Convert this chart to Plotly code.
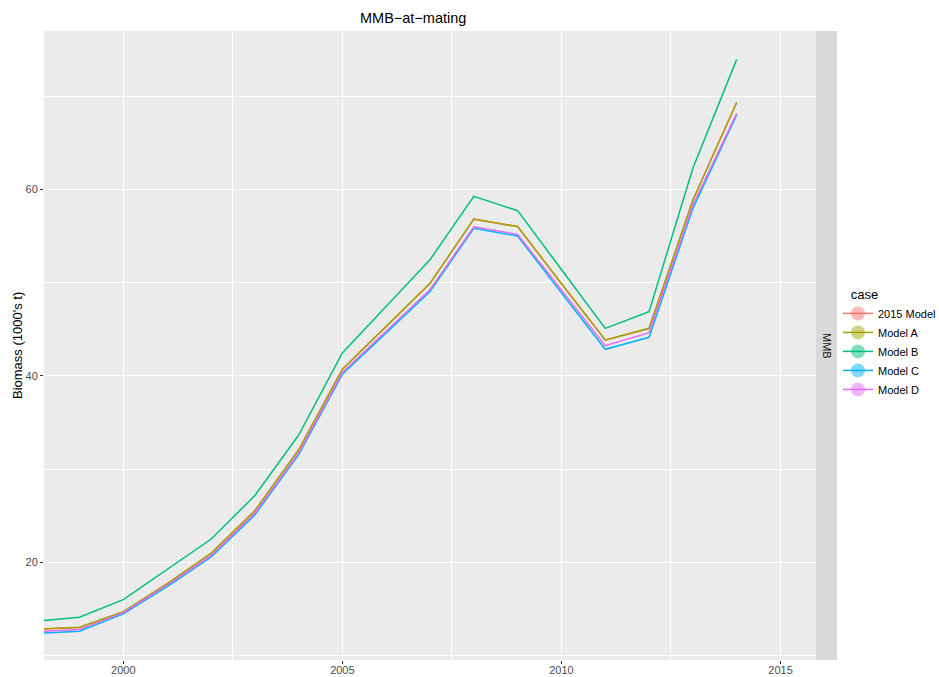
import plotly.graph_objects as go

years = list(range(1998, 2015))
cases = ["2015 Model", "Model A", "Model B", "Model C", "Model D"]
colors = ["#F8766D", "#A3A500", "#00BF7D", "#00B0F6", "#E76BF3"]

model_2015 = [12.80, 13.01, 14.68, 17.68, 20.94, 25.51, 32.02, 40.70, 45.28, 49.90, 56.80, 55.99, 49.88, 43.82, 45.07, 58.83, 69.31]
model_a = [12.82, 13.03, 14.70, 17.70, 20.96, 25.53, 32.04, 40.72, 45.3, 49.92, 56.82, 56.01, 49.9, 43.84, 45.09, 58.85, 69.33]
model_b = [13.66, 14.10, 15.99, 19.20, 22.47, 27.14, 33.62, 42.45, 47.45, 52.45, 59.25, 57.71, 51.4, 45.09, 46.88, 62.25, 73.94]
model_c = [12.38, 12.60, 14.46, 17.40, 20.54, 25.07, 31.51, 40.16, 44.6, 49.05, 55.82, 54.99, 48.9, 42.84, 44.13, 57.96, 67.97]
model_d = [12.55, 12.78, 14.60, 17.55, 20.72, 25.25, 31.70, 40.35, 44.8, 49.25, 55.99, 55.17, 49.2, 43.23, 44.62, 58.32, 68.15]
series = [model_2015, model_a, model_b, model_c, model_d]

x_range = [1998.19, 2015.81]
y_range = [9.52, 76.98]

W, H = 939, 677
px0, px1 = 44, 816
py0, py1 = 31, 660
sx1 = 837

fig = go.Figure()
for name, vals, col in zip(cases, series, colors):
    fig.add_trace(go.Scatter(x=years, y=vals, mode="lines", name=name,
                             line=dict(color=col, width=1.5), showlegend=False))
for name, col in zip(cases, colors):
    fig.add_trace(go.Scatter(x=[None], y=[None], mode="lines+markers", name=name,
                             line=dict(color=col, width=1.5),
                             marker=dict(color=col, size=14, opacity=0.5),
                             showlegend=True))

font_fam = "Liberation Sans, Arial, sans-serif"
grid_major = dict(showgrid=True, gridcolor="white", gridwidth=1.1)

fig.update_layout(
    width=W, height=H,
    margin=dict(l=0, r=0, t=0, b=0, autoexpand=False),
    paper_bgcolor="white", plot_bgcolor="#EBEBEB",
    font=dict(family=font_fam, color="#4D4D4D", size=11),
    showlegend=True,
    legend=dict(x=838 / W, y=1 - 282 / H, xanchor="left", yanchor="top",
                title=dict(text="\u00a0\u00a0\u00a0case", font=dict(size=13, color="black")),
                font=dict(size=11, color="black"), tracegroupgap=0,
                bgcolor="rgba(0,0,0,0)", itemwidth=30),
    xaxis=dict(domain=[px0 / W, px1 / W], range=x_range, tick0=2000, dtick=5,
               ticks="outside", ticklen=3, tickcolor="#333333", tickwidth=1,
               showline=False, zeroline=False, automargin=False,
               ticklabelstandoff=-3,
               tickfont=dict(size=11, color="#4D4D4D"),
               minor=dict(tick0=2000, dtick=2.5, showgrid=True, gridcolor="white", gridwidth=0.5, ticks=""),
               **grid_major),
    yaxis=dict(domain=[1 - py1 / H, 1 - py0 / H], range=y_range, tick0=0, dtick=20,
               ticks="outside", ticklen=3, tickcolor="#333333", tickwidth=1,
               showline=False, zeroline=False, automargin=False,
               tickfont=dict(size=11, color="#4D4D4D"),
               minor=dict(tick0=0, dtick=10, showgrid=True, gridcolor="white", gridwidth=0.5, ticks=""),
               **grid_major),
    shapes=[
        dict(type="rect", xref="paper", yref="paper",
             x0=px1 / W, x1=sx1 / W, y0=1 - py1 / H, y1=1 - py0 / H,
             fillcolor="#D9D9D9", line=dict(width=0), layer="below"),
    ],
    annotations=[
        dict(text="MMB\u2212at\u2212mating", xref="paper", yref="paper",
             x=413 / W, y=1 - 18 / H, xanchor="center", yanchor="middle",
             showarrow=False, font=dict(size=14.5, color="black")),
        dict(text="Biomass (1000's t)", xref="paper", yref="paper",
             x=17 / W, y=1 - 346 / H, xanchor="center", yanchor="middle",
             textangle=-90, showarrow=False, font=dict(size=13, color="black")),
        dict(text="MMB", xref="paper", yref="paper",
             x=(px1 + sx1) / 2 / W, y=1 - (py0 + py1) / 2 / H,
             xanchor="center", yanchor="middle", textangle=90,
             showarrow=False, font=dict(size=11, color="#1A1A1A")),
    ],
)

fig.write_html("out.html")
